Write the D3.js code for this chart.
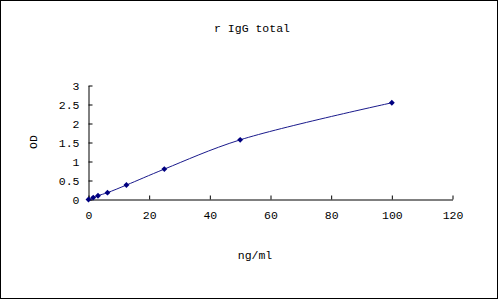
<!DOCTYPE html>
<html>
<head>
<meta charset="utf-8">
<style>
  body { margin: 0; background: #fff; }
  svg text { font-family: "Liberation Mono", "DejaVu Sans Mono", monospace; font-size: 11.5px; fill: #000; }
</style>
<script src="https://d3js.org/d3.v7.min.js"></script>
</head>
<body>
<svg width="498" height="299"></svg>
<script>
// concentrations (ng/ml) and measured OD
var conc = [0, 1.5625, 3.125, 6.25, 12.5, 25, 50, 100];
var od = [0, 0.05, 0.1, 0.18, 0.38, 0.8, 1.57, 2.545];
var xTicks = [0, 20, 40, 60, 80, 100, 120];
var yTicks = [0, 0.5, 1, 1.5, 2, 2.5, 3];

var data = conc.map(function(c, i) { return {x: c, y: od[i]}; });

var svg = d3.select("svg");

// outer frame
svg.append("rect")
  .attr("x", 0.5).attr("y", 0.5)
  .attr("width", 497).attr("height", 298)
  .attr("fill", "none").attr("stroke", "#000");

var x = d3.scaleLinear().domain([0, 120]).range([88.5, 452.5]);
var y = d3.scaleLinear().domain([0, 3]).range([199.5, 85.5]);

svg.append("g")
  .attr("transform", "translate(0," + y(0) + ")")
  .call(d3.axisBottom(x).tickValues(xTicks).tickSizeInner(-4).tickSizeOuter(0).tickPadding(11));
svg.append("g")
  .attr("transform", "translate(" + x(0) + ",0)")
  .call(d3.axisLeft(y).tickValues(yTicks).tickFormat(d3.format("")).tickSizeInner(-4).tickSizeOuter(0).tickPadding(9));

svg.selectAll(".domain, .tick line").attr("stroke", "#000");
svg.selectAll(".tick text").attr("font-family", null).attr("font-size", null);

var line = d3.line()
  .x(function(d) { return x(d.x); })
  .y(function(d) { return y(d.y); })
  .curve(d3.curveCatmullRom.alpha(0.5));

svg.append("path")
  .datum(data)
  .attr("fill", "none")
  .attr("stroke", "#1a1a8c")
  .attr("stroke-width", 1)
  .attr("d", line);

svg.selectAll(".pt")
  .data(data)
  .enter().append("path")
  .attr("class", "pt")
  .attr("transform", function(d) { return "translate(" + x(d.x) + "," + y(d.y) + ")"; })
  .attr("d", d3.symbol().type(d3.symbolDiamond2).size(22))
  .attr("fill", "#000080");

svg.append("text")
  .attr("x", 252).attr("y", 32)
  .attr("text-anchor", "middle")
  .text("r IgG total");

svg.append("text")
  .attr("x", 255).attr("y", 259)
  .attr("text-anchor", "middle")
  .text("ng/ml");

svg.append("text")
  .attr("transform", "translate(37,142) rotate(-90)")
  .attr("text-anchor", "middle")
  .text("OD");
</script>
</body>
</html>
